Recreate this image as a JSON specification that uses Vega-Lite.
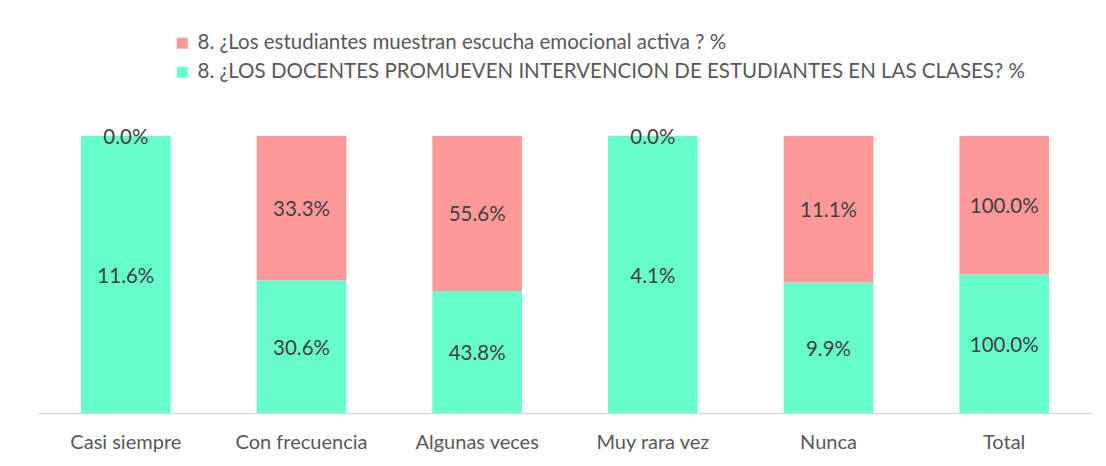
{
  "$schema": "https://vega.github.io/schema/vega-lite/v6.json",
  "width": 1054,
  "height": 277,
  "autosize": {"type": "none"},
  "padding": {"left": 38, "top": 136, "right": 14, "bottom": 53},
  "background": "white",
  "config": {"view": {"stroke": null}, "font": "Lato"},
  "data": {
    "values": [
      {"categoria": "Casi siempre", "serie": "8. ¿LOS DOCENTES PROMUEVEN INTERVENCION DE ESTUDIANTES EN LAS CLASES? %", "pct": 0.116},
      {"categoria": "Casi siempre", "serie": "8. ¿Los estudiantes muestran escucha emocional activa ? %", "pct": 0.0},
      {"categoria": "Con frecuencia", "serie": "8. ¿LOS DOCENTES PROMUEVEN INTERVENCION DE ESTUDIANTES EN LAS CLASES? %", "pct": 0.306},
      {"categoria": "Con frecuencia", "serie": "8. ¿Los estudiantes muestran escucha emocional activa ? %", "pct": 0.333},
      {"categoria": "Algunas veces", "serie": "8. ¿LOS DOCENTES PROMUEVEN INTERVENCION DE ESTUDIANTES EN LAS CLASES? %", "pct": 0.438},
      {"categoria": "Algunas veces", "serie": "8. ¿Los estudiantes muestran escucha emocional activa ? %", "pct": 0.556},
      {"categoria": "Muy rara vez", "serie": "8. ¿LOS DOCENTES PROMUEVEN INTERVENCION DE ESTUDIANTES EN LAS CLASES? %", "pct": 0.041},
      {"categoria": "Muy rara vez", "serie": "8. ¿Los estudiantes muestran escucha emocional activa ? %", "pct": 0.0},
      {"categoria": "Nunca", "serie": "8. ¿LOS DOCENTES PROMUEVEN INTERVENCION DE ESTUDIANTES EN LAS CLASES? %", "pct": 0.099},
      {"categoria": "Nunca", "serie": "8. ¿Los estudiantes muestran escucha emocional activa ? %", "pct": 0.111},
      {"categoria": "Total", "serie": "8. ¿LOS DOCENTES PROMUEVEN INTERVENCION DE ESTUDIANTES EN LAS CLASES? %", "pct": 1.0},
      {"categoria": "Total", "serie": "8. ¿Los estudiantes muestran escucha emocional activa ? %", "pct": 1.0}
    ]
  },
  "transform": [
    {"stack": "pct", "groupby": ["categoria"], "as": ["y0", "y1"], "offset": "normalize", "sort": [{"field": "serie", "order": "ascending"}]}
  ],
  "encoding": {
    "x": {
      "field": "categoria",
      "type": "nominal",
      "sort": ["Casi siempre", "Con frecuencia", "Algunas veces", "Muy rara vez", "Nunca", "Total"],
      "title": null,
      "scale": {"paddingInner": 0.49, "paddingOuter": 0.245},
      "axis": {
        "labelAngle": 0,
        "labelFontSize": 20,
        "labelColor": "#595959",
        "labelPadding": 19,
        "ticks": false,
        "domainColor": "#d9d9d9",
        "domainWidth": 1.5
      }
    }
  },
  "layer": [
    {
      "mark": {"type": "bar"},
      "encoding": {
        "y": {"field": "y0", "type": "quantitative", "axis": null, "scale": {"domain": [0, 1]}},
        "y2": {"field": "y1"},
        "color": {
          "field": "serie",
          "type": "nominal",
          "scale": {
            "domain": ["8. ¿Los estudiantes muestran escucha emocional activa ? %", "8. ¿LOS DOCENTES PROMUEVEN INTERVENCION DE ESTUDIANTES EN LAS CLASES? %"],
            "range": ["#ff9999", "#66ffcc"]
          },
          "legend": {
            "orient": "none",
            "legendX": 134,
            "legendY": -103,
            "title": null,
            "symbolType": "square",
            "symbolSize": 121,
            "symbolStrokeWidth": 0,
            "labelFontSize": 20.5,
            "labelColor": "#595959",
            "labelOffset": 5,
            "rowPadding": 8,
            "labelLimit": 1000
          }
        }
      }
    },
    {
      "transform": [
        {"fold": ["y0", "y1"], "as": ["extremo", "pos"]},
        {"aggregate": [{"op": "mean", "field": "pos", "as": "ymid"}], "groupby": ["categoria", "serie", "pct"]}
      ],
      "mark": {"type": "text", "fontSize": 20.5, "color": "#404040", "baseline": "middle", "dy": 2},
      "encoding": {
        "y": {"field": "ymid", "type": "quantitative"},
        "text": {"field": "pct", "type": "quantitative", "format": ".1%"}
      }
    }
  ]
}
